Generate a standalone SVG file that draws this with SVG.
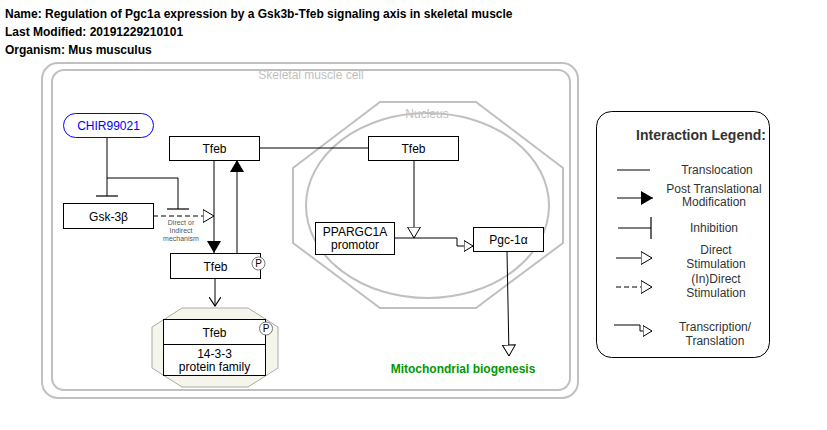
<svg xmlns="http://www.w3.org/2000/svg" width="827" height="430" viewBox="0 0 827 430">
<style>
text{font-family:"Liberation Sans",Arial,sans-serif;}
.hdr{font-size:12px;font-weight:bold;fill:#000;}
.box{fill:#fff;stroke:#000;stroke-width:1;}
.lbl{font-size:12px;fill:#000;text-anchor:middle;}
.ln{stroke:#000;stroke-width:1;fill:none;}
.cmp{fill:none;stroke:#c0c0c0;stroke-width:2;}
.leg{font-size:12px;fill:#333;text-anchor:middle;}
.p{fill:#fff;stroke:#555;stroke-width:0.8;}
.ptx{font-size:10px;fill:#000;text-anchor:middle;}
</style>
<defs>
<marker id="filled" viewBox="0 0 12 14" refX="12" refY="7" markerWidth="12" markerHeight="14" markerUnits="userSpaceOnUse" orient="auto"><path d="M0,0 L12,7 L0,14 Z" fill="#000"/></marker>
<marker id="open" viewBox="0 0 12 14" refX="11.5" refY="7" markerWidth="12" markerHeight="14" markerUnits="userSpaceOnUse" orient="auto"><path d="M0.5,0.5 L11.5,7 L0.5,13.5 Z" fill="#fff" stroke="#000" stroke-width="1"/></marker>
<marker id="opensm" viewBox="0 0 10 12" refX="9.5" refY="6" markerWidth="10" markerHeight="12" markerUnits="userSpaceOnUse" orient="auto"><path d="M0.5,0.5 L9.5,6 L0.5,11.5 Z" fill="#fff" stroke="#000" stroke-width="1"/></marker>
<marker id="vee" viewBox="0 0 10 12" refX="9" refY="6" markerWidth="10" markerHeight="12" markerUnits="userSpaceOnUse" orient="auto"><path d="M0,0 L9,6 L0,12" fill="none" stroke="#000" stroke-width="1.2"/></marker>
<marker id="tbar" viewBox="0 0 4 22" refX="2" refY="11" markerWidth="4" markerHeight="22" markerUnits="userSpaceOnUse" orient="auto"><path d="M2,0 L2,22" stroke="#000" stroke-width="1.2"/></marker>
</defs>
<rect width="827" height="430" fill="#fff"/>
<g id="header">
<text class="hdr" x="5" y="18">Name: Regulation of Pgc1a expression by a Gsk3b-Tfeb signaling axis in skeletal muscle</text>
<text class="hdr" x="5" y="36">Last Modified: 20191229210101</text>
<text class="hdr" x="5" y="54">Organism: Mus musculus</text>
</g>
<g id="cell">
<rect class="cmp" x="42" y="63" width="536" height="335" rx="16"/>
<rect class="cmp" x="52" y="70" width="518" height="320" rx="12"/>
<text x="311" y="79" font-size="12" fill="#c0c0c0" text-anchor="middle">Skeletal muscle cell</text>
</g>
<g id="nucleus">
<polygon class="cmp" points="380,102 476,102 563,168 563,243 476,308 380,308 293,243 293,168"/>
<ellipse class="cmp" cx="427.5" cy="205.5" rx="121.5" ry="92.5"/>
<text x="427" y="118" font-size="12" fill="#c0c0c0" text-anchor="middle">Nucleus</text>
</g>
<g id="complex">
<polygon points="182,308 248,308 278,327 278,368 248,387 182,387 152,368 152,327" fill="#f5f5ec" stroke="#aaa" stroke-width="1"/>
</g>
<g id="connectors">
<path class="ln" d="M107,138 L107,196" marker-end="url(#tbar)"/>
<path class="ln" d="M107,178 L178,178 L178,209" marker-end="url(#tbar)"/>
<path class="ln" d="M153,216 L214,216" stroke-dasharray="5,3" marker-end="url(#open)"/>
<path class="ln" d="M214,160 L214,253" marker-end="url(#filled)"/>
<path class="ln" d="M237,253 L237,160" marker-end="url(#filled)"/>
<path class="ln" d="M215,278 L215,306" marker-end="url(#vee)"/>
<path class="ln" d="M259,148 L368,148"/>
<path class="ln" d="M414,160 L414,238" marker-end="url(#open)"/>
<path class="ln" d="M394,238 L457,238 L457,246 L473,246" marker-end="url(#opensm)"/>
<path class="ln" d="M507,251 L509,356" marker-end="url(#open)"/>
</g>
<text x="181" y="225" font-size="7" fill="#555" text-anchor="middle">Direct or</text>
<text x="181" y="233" font-size="7" fill="#555" text-anchor="middle">Indirect</text>
<text x="181" y="241" font-size="7" fill="#555" text-anchor="middle">mechanism</text>
<g id="chir99021">
<rect x="63.5" y="113.5" width="90" height="24" rx="12" fill="#fff" stroke="#0000ff" stroke-width="1"/>
<text class="lbl" x="108.5" y="130" style="fill:#0000ff">CHIR99021</text>
</g>
<g id="tfeb_cyto">
<rect class="box" x="169.5" y="136.5" width="90" height="24"/>
<text class="lbl" x="214.5" y="153">Tfeb</text>
</g>
<g id="gsk3b">
<rect class="box" x="63.5" y="203.5" width="90" height="25"/>
<text class="lbl" x="108.5" y="220.5">Gsk-3β</text>
</g>
<g id="tfeb_p">
<rect class="box" x="170.5" y="253.5" width="90" height="25"/>
<text class="lbl" x="215.5" y="270.5">Tfeb</text>
<circle class="p" cx="258.5" cy="263.5" r="6.5"/>
<text class="ptx" x="258.5" y="267">P</text>
</g>
<g id="tfeb_complex">
<rect class="box" x="163.5" y="319.5" width="102" height="25"/>
<text class="lbl" x="214.5" y="336.5">Tfeb</text>
<circle class="p" cx="266" cy="328.5" r="6.5"/>
<text class="ptx" x="266" y="332">P</text>
</g>
<g id="protein1433">
<rect class="box" x="163.5" y="344.5" width="102" height="31"/>
<text class="lbl" x="214.5" y="358">14-3-3</text>
<text class="lbl" x="214.5" y="371">protein family</text>
</g>
<g id="tfeb_nuc">
<rect class="box" x="368.5" y="136.5" width="90" height="24"/>
<text class="lbl" x="413.5" y="153">Tfeb</text>
</g>
<g id="ppargc1a">
<rect class="box" x="315.5" y="222.5" width="79" height="32"/>
<text class="lbl" x="355" y="236">PPARGC1A</text>
<text class="lbl" x="355" y="249">promotor</text>
</g>
<g id="pgc1a">
<rect class="box" x="473.5" y="227.5" width="70" height="24"/>
<text class="lbl" x="508.5" y="244">Pgc-1α</text>
</g>
<g id="mito">
<text x="463" y="373" font-size="12" font-weight="bold" fill="#009900" text-anchor="middle">Mitochondrial biogenesis</text>
</g>
<g id="legend">
<rect x="596.5" y="111.5" width="173" height="246" rx="15" fill="#fff" stroke="#000" stroke-width="1"/>
<text x="701" y="140" font-size="14" font-weight="bold" fill="#333" text-anchor="middle">Interaction Legend:</text>
<path class="ln" d="M617,170 L650,170"/>
<text class="leg" x="717" y="174">Translocation</text>
<path class="ln" d="M617,198 L653,198" marker-end="url(#filled)"/>
<text class="leg" x="714" y="193">Post Translational</text>
<text class="leg" x="714" y="206">Modification</text>
<path class="ln" d="M618,228 L651,228" marker-end="url(#tbar)"/>
<text class="leg" x="714" y="232">Inhibition</text>
<path class="ln" d="M616,258 L652,258" marker-end="url(#open)"/>
<text class="leg" x="716" y="254">Direct</text>
<text class="leg" x="716" y="268">Stimulation</text>
<path class="ln" d="M616,287 L652,287" stroke-dasharray="5,3" marker-end="url(#open)"/>
<text class="leg" x="716" y="283">(In)Direct</text>
<text class="leg" x="716" y="297">Stimulation</text>
<path class="ln" d="M614,325 L640,325 L640,331 L652,331" marker-end="url(#opensm)"/>
<text class="leg" x="715" y="331">Transcription/</text>
<text class="leg" x="715" y="345">Translation</text>
</g>
</svg>
